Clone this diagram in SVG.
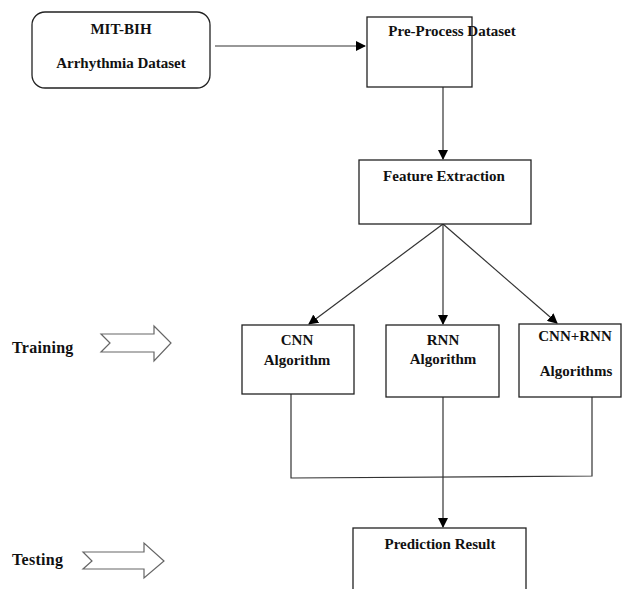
<svg xmlns="http://www.w3.org/2000/svg" width="623" height="589" viewBox="0 0 623 589">
<defs>
<marker id="ah" markerWidth="10" markerHeight="10" refX="9" refY="5" orient="auto" markerUnits="userSpaceOnUse">
<path d="M0,0 L10,5 L0,10 Z" fill="#000"/>
</marker>
<style>
.box{fill:#fff;stroke:#222;stroke-width:1.3}
.t{font-family:"Liberation Serif","Times New Roman",serif;font-weight:bold;font-size:15px;fill:#111;text-anchor:middle}
.tl{font-family:"Liberation Serif","Times New Roman",serif;font-weight:bold;font-size:16px;fill:#111;letter-spacing:0.3px}
.ln{fill:none;stroke:#333;stroke-width:1.2}
.blk{fill:#fff;stroke:#666;stroke-width:1.2}
</style>
</defs>
<rect width="623" height="589" fill="#fff"/>
<g id="connectors">
<line class="ln" x1="215" y1="46" x2="365" y2="46" marker-end="url(#ah)"/>
<line class="ln" x1="443" y1="87" x2="443" y2="159" marker-end="url(#ah)"/>
<line class="ln" x1="443" y1="224" x2="309" y2="324" marker-end="url(#ah)"/>
<line class="ln" x1="443" y1="224" x2="443" y2="324" marker-end="url(#ah)"/>
<line class="ln" x1="443" y1="224" x2="557" y2="323" marker-end="url(#ah)"/>
<polyline class="ln" points="291,394 291,478 592,476 592,397"/>
<line class="ln" x1="443" y1="397" x2="443" y2="527" marker-end="url(#ah)"/>
</g>
<g id="mitbih">
<rect class="box" x="32" y="12" width="178" height="76" rx="13"/>
<text class="t" x="121" y="34">MIT-BIH</text>
<text class="t" x="121" y="68">Arrhythmia Dataset</text>
</g>
<g id="preprocess">
<rect class="box" x="367" y="17" width="105" height="70"/>
<text class="t" x="452" y="36">Pre-Process Dataset</text>
</g>
<g id="feature">
<rect class="box" x="359" y="160" width="172" height="64"/>
<text class="t" x="444" y="181">Feature Extraction</text>
</g>
<g id="cnn">
<rect class="box" x="242" y="325" width="112" height="69"/>
<text class="t" x="297" y="345">CNN</text>
<text class="t" x="297" y="365">Algorithm</text>
</g>
<g id="rnn">
<rect class="box" x="386" y="325" width="113" height="72"/>
<text class="t" x="443" y="345">RNN</text>
<text class="t" x="443" y="364">Algorithm</text>
</g>
<g id="cnnrnn">
<rect class="box" x="519" y="324" width="102" height="73"/>
<text class="t" x="575" y="341">CNN+RNN</text>
<text class="t" x="576" y="376">Algorithms</text>
</g>
<g id="prediction">
<rect class="box" x="353" y="528" width="173" height="70"/>
<text class="t" x="440" y="549">Prediction Result</text>
</g>
<g id="training">
<text class="tl" x="12" y="353">Training</text>
<polygon class="blk" points="101,334 154,334 154,326 171,343 154,361 154,352 101,352 110,343"/>
</g>
<g id="testing">
<text class="tl" x="12" y="565">Testing</text>
<polygon class="blk" points="83,552 144,552 144,543 164,561 144,578 144,569 83,569 92,561"/>
</g>
</svg>
